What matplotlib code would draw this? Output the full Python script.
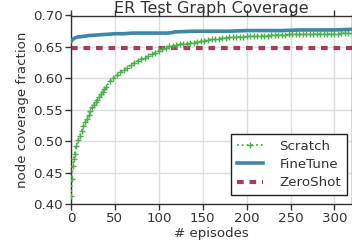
import matplotlib
matplotlib.use("Agg")
import matplotlib.pyplot as plt

scratch_ep = [0, 1, 2, 3, 4, 6, 8, 10, 12, 14, 16, 18, 20, 22, 24, 26, 28, 30, 32, 34, 36, 38, 40,
              44, 48, 52, 56, 60, 64, 68, 72, 76, 80, 84, 88, 92, 96, 100, 104, 108, 112, 116, 120,
              124, 128, 132, 136, 140, 144, 148, 152, 156, 160, 164, 168, 172, 176, 180, 184, 188,
              192, 196, 200, 204, 208, 212, 216, 220, 224, 228, 232, 236, 240, 244, 248, 252, 256,
              260, 264, 268, 272, 276, 280, 284, 288, 292, 296, 300, 304, 308, 312, 316, 320]
scratch_val = [0.412, 0.440, 0.460, 0.472, 0.480, 0.492, 0.502, 0.509, 0.516, 0.524, 0.530, 0.536,
               0.542, 0.548, 0.554, 0.558, 0.562, 0.566, 0.570, 0.575, 0.579, 0.583, 0.587,
               0.595, 0.600, 0.605, 0.610, 0.614, 0.617, 0.621, 0.625, 0.628, 0.631, 0.633, 0.636,
               0.639, 0.641, 0.644, 0.647, 0.649, 0.651, 0.652, 0.653,
               0.654, 0.655, 0.655, 0.656, 0.657, 0.658, 0.659, 0.660, 0.661, 0.662, 0.662, 0.663,
               0.664, 0.664, 0.665, 0.665, 0.666, 0.666, 0.666, 0.667, 0.667, 0.667, 0.668, 0.668,
               0.668, 0.668, 0.669, 0.669, 0.669, 0.669, 0.669, 0.670, 0.670, 0.670,
               0.670, 0.670, 0.670, 0.670, 0.671, 0.671, 0.671, 0.671, 0.671, 0.671, 0.671, 0.671,
               0.672, 0.672, 0.672, 0.672]

finetune_ep = [0, 2, 4, 6, 8, 10, 15, 20, 30, 40, 50, 60, 70, 80, 90, 100, 110, 116, 118, 120,
               140, 160, 180, 200, 220, 240, 260, 280, 300, 320]
finetune_val = [0.659, 0.662, 0.664, 0.665, 0.666, 0.666, 0.667, 0.668, 0.669, 0.670, 0.671, 0.671,
                0.672, 0.672, 0.672, 0.672, 0.672, 0.673, 0.674, 0.674, 0.675, 0.675, 0.675,
                0.676, 0.676, 0.676, 0.677, 0.677, 0.677, 0.678]

zeroshot_ep = [0, 320]
zeroshot_val = [0.648, 0.648]

xticks = [0, 50, 100, 150, 200, 250, 300]
yticks = [0.40, 0.45, 0.50, 0.55, 0.60, 0.65, 0.70]

plt.rcParams['font.family'] = ['DejaVu Sans']
plt.rcParams['font.size'] = 9.6
txt = '#333333'

fig = plt.figure(figsize=(3.52, 2.46), dpi=100)
ax = fig.add_axes([71/352, 1 - 204/246, (352 - 71)/352, (204 - 15.5)/246])

ax.plot(scratch_ep, scratch_val, color='#4caf4c', linestyle=':', linewidth=1.3,
        marker='+', markersize=4.0, markeredgewidth=1.0, label='Scratch', zorder=3)
ax.plot(finetune_ep, finetune_val, color='#3d87a8', linewidth=2.6, label='FineTune', zorder=4)
ax.plot(zeroshot_ep, zeroshot_val, color='#a83a5c', linestyle=(0, (1.6, 1.4)), linewidth=3.0,
        label='ZeroShot', zorder=2)

ax.set_xlim(0, 320)
ax.set_ylim(0.40, 0.70)
ax.set_xticks(xticks)
ax.set_yticks(yticks)
ax.set_yticklabels([f'{v:.2f}' for v in yticks])
ax.grid(True, color='#dddddd', linewidth=1.0)
ax.set_axisbelow(True)
for s in ['left', 'bottom', 'top', 'right']:
    ax.spines[s].set_color('#333333')
    ax.spines[s].set_linewidth(1.0)
ax.tick_params(direction='out', length=4, width=1, colors=txt, top=True, labelcolor=txt, pad=2)

ax.set_xlabel('# episodes', color=txt, labelpad=1)
ax.set_ylabel('node coverage fraction', color=txt, labelpad=3)
ax.set_title('ER Test Graph Coverage', color=txt, y=1.0, pad=1.7)

leg = ax.legend(loc='lower right', bbox_to_anchor=(0.99, 0.035), fancybox=False, framealpha=1,
                edgecolor='#222222', handlelength=2.0, borderpad=0.4, labelspacing=0.4,
                handletextpad=1.2, borderaxespad=0.2)
for t in leg.get_texts():
    t.set_color(txt)
leg.get_frame().set_linewidth(1.0)

fig.savefig('out.png', dpi=100)
